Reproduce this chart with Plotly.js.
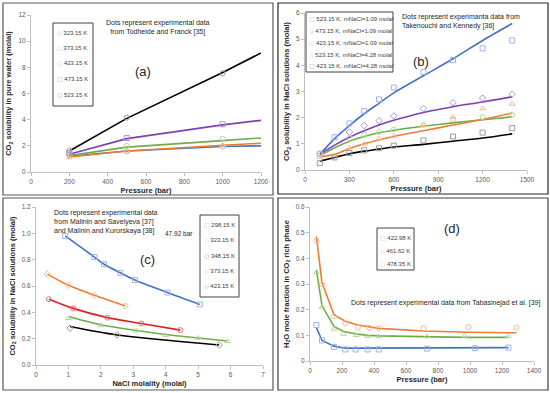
<!DOCTYPE html>
<html>
<head>
<meta charset="utf-8">
<script src="https://cdn.plot.ly/plotly-3.0.1.min.js"></script>
<style>html,body{margin:0;padding:0;background:#fff}#chart{width:550px;height:393px}</style>
</head>
<body>
<div id="chart"></div>
<script>
// ---------- Panel (a): CO2 solubility in pure water ----------
const aLineP = [200, 500, 1000, 1200];
const aExpP = [200, 500, 1000];
const a323Line = [1.2, 1.6, 1.95, 2.0];
const a373Line = [1.15, 1.6, 2.05, 2.2];
const a423Line = [1.25, 1.9, 2.4, 2.6];
const a473Line = [1.35, 2.55, 3.6, 3.95];
const a523Line = [1.6, 4.1, 7.6, 9.1];
const a323Exp = [1.3, 1.6, 1.95];
const a373Exp = [1.1, 1.55, 2.05];
const a423Exp = [1.45, 2.0, 2.55];
const a473Exp = [1.45, 2.6, 3.65];
const a523Exp = [1.65, 4.15, 7.55];
const aLabels = ["323.15 K", "373.15 K", "423.15 K", "473.15 K", "523.15 K"];

// ---------- Panel (b): CO2 solubility in NaCl solutions vs pressure ----------
const bLineP = [100, 200, 300, 400, 500, 600, 800, 1000, 1200, 1400];
const b523m109Line = [0.6, 1.2, 1.7, 2.15, 2.55, 2.95, 3.6, 4.25, 4.95, 5.6];
const b473m109Line = [0.6, 0.95, 1.25, 1.5, 1.72, 1.9, 2.2, 2.42, 2.6, 2.8];
const b423m109Line = [0.55, 0.85, 1.1, 1.28, 1.42, 1.52, 1.67, 1.8, 1.92, 2.03];
const b523m428Line = [0.5, 0.6, 0.82, 1.0, 1.15, 1.28, 1.5, 1.72, 1.93, 2.18];
const b423m428Line = [0.34, 0.48, 0.62, 0.72, 0.8, 0.88, 0.98, 1.1, 1.22, 1.38];
const b523m109ExpP = [100, 200, 300, 400, 500, 600, 800, 1000, 1200, 1400];
const b523m109Exp = [0.62, 1.25, 1.78, 2.25, 2.7, 3.15, 3.75, 4.2, 4.65, 4.95];
const b473m109ExpP = [100, 300, 400, 500, 600, 800, 1000, 1200, 1400];
const b473m109Exp = [0.62, 1.45, 1.7, 1.88, 2.07, 2.35, 2.57, 2.75, 2.9];
const b423m109ExpP = [100, 300, 400, 500, 600, 800, 1000, 1200, 1400];
const b423m109Exp = [0.62, 1.22, 1.35, 1.45, 1.55, 1.72, 1.93, 2.02, 2.1];
const b523m428ExpP = [100, 200, 300, 400, 500, 600, 800, 1000, 1200, 1400];
const b523m428Exp = [0.5, 0.55, 0.85, 1.0, 1.2, 1.3, 1.72, 2.02, 2.35, 2.52];
const b423m428ExpP = [100, 200, 300, 400, 500, 600, 800, 1000, 1200, 1400];
const b423m428Exp = [0.26, 0.48, 0.65, 0.75, 0.83, 0.93, 1.13, 1.28, 1.43, 1.6];
const bLabels = ["523.15 K, mNaCl=1.09 molal", "473.15 K, mNaCl=1.09 molal", "423.15 K, mNaCl=1.09 molal",
                 "523.15 K, mNaCl=4.28 molal", "423.15 K, mNaCl=4.28 molal"];

// ---------- Panel (c): CO2 solubility vs NaCl molality (47.92 bar) ----------
const c298M = [0.9, 1.8, 2.1, 2.6, 3.05, 4.05, 5.05];
const c298Line = [0.98, 0.82, 0.765, 0.7, 0.645, 0.55, 0.46];
const c298Exp = [0.98, 0.82, 0.765, 0.7, 0.645, 0.55, 0.46];
const c323M = [0.35, 1.0, 1.8, 2.75];
const c323Line = [0.69, 0.605, 0.53, 0.45];
const c323Exp = [0.69, 0.605, 0.53, 0.45];
const c348M = [0.4, 1.15, 2.2, 3.25, 4.45];
const c348Line = [0.5, 0.43, 0.36, 0.315, 0.265];
const c348Exp = [0.5, 0.43, 0.36, 0.315, 0.265];
const c373M = [1.0, 2.0, 3.1, 4.0, 5.0, 5.9];
const c373Line = [0.368, 0.305, 0.262, 0.232, 0.205, 0.182];
const c373Exp = [0.355, 0.3, 0.26, 0.225, 0.205, 0.18];
const c423M = [1.05, 2.5, 5.65];
const c423Line = [0.292, 0.228, 0.152];
const c423Exp = [0.28, 0.228, 0.152];
const cLabels = ["298.15 K", "323.15 K", "348.15 K", "373.15 K", "423.15 K"];

// ---------- Panel (d): H2O mole fraction in CO2-rich phase ----------
const d423P = [40, 75, 150, 220, 285, 360, 430, 730, 1030, 1240];
const d423Line = [0.13, 0.08, 0.058, 0.05, 0.05, 0.05, 0.05, 0.05, 0.051, 0.052];
const d423Exp = [0.14, 0.08, 0.055, 0.045, 0.045, 0.045, 0.045, 0.048, 0.05, 0.052];
const d462P = [40, 75, 150, 210, 290, 360, 430, 730, 965, 1240];
const d462Line = [0.355, 0.215, 0.135, 0.115, 0.105, 0.1, 0.098, 0.094, 0.092, 0.092];
const d462Exp = [0.345, 0.21, 0.125, 0.105, 0.1, 0.097, 0.095, 0.095, 0.098, 0.097];
const d478P = [40, 75, 150, 220, 300, 370, 430, 710, 990, 1290];
const d478Line = [0.485, 0.305, 0.18, 0.155, 0.14, 0.132, 0.127, 0.117, 0.112, 0.11];
const d478Exp = [0.47, 0.3, 0.175, 0.148, 0.13, 0.13, 0.128, 0.128, 0.132, 0.13];
const dLabels = ["422.98 K", "461.62 K", "478.35 K"];

// ---------- styling ----------
const C = {
  blue: "#4472C4", blueM: "#9DB5E3",
  orange: "#ED7D31", orangeM: "#F6BC95",
  green: "#70AD47", greenM: "#B4D89C",
  purple: "#7E3FB8", purpleM: "#B293DD",
  black: "#000000", blackM: "#9A9A9A",
  red: "#E02020", redM: "#E87070"
};
const FONT = "Liberation Sans, Arial, sans-serif";
const W = 550, H = 393;
const px = x => x / W, py = y => 1 - y / H;

const traces = [];
function addLine(ax, x, y, color, shape) {
  traces.push({x, y, xaxis: "x" + ax, yaxis: "y" + ax, type: "scatter", mode: "lines",
    line: {color, width: 1.6, shape: shape || "linear", smoothing: 0.8}, showlegend: false, hoverinfo: "skip"});
}
function addExp(ax, x, y, color, symbol, name) {
  traces.push({x, y, xaxis: "x" + ax, yaxis: "y" + ax, type: "scatter", mode: "markers", name,
    marker: {symbol, size: 5, color, line: {color, width: 1}}, showlegend: false});
}

// (a)
addLine("", aLineP, a323Line, C.blue); addLine("", aLineP, a373Line, C.orange);
addLine("", aLineP, a423Line, C.green); addLine("", aLineP, a473Line, C.purple);
addLine("", aLineP, a523Line, C.black);
addExp("", aExpP, a323Exp, C.blueM, "diamond-open", aLabels[0]);
addExp("", aExpP, a373Exp, C.orangeM, "triangle-up-open", aLabels[1]);
addExp("", aExpP, a423Exp, C.greenM, "circle-open", aLabels[2]);
addExp("", aExpP, a473Exp, C.purpleM, "square-open", aLabels[3]);
addExp("", aExpP, a523Exp, C.blackM, "circle-open", aLabels[4]);
// (b)
addLine("2", bLineP, b523m109Line, C.blue, "spline");
addLine("2", bLineP, b473m109Line, C.purple, "spline");
addLine("2", bLineP, b423m109Line, C.green, "spline");
addLine("2", bLineP, b523m428Line, C.orange, "spline");
addLine("2", bLineP, b423m428Line, C.black, "spline");
addExp("2", b523m109ExpP, b523m109Exp, C.blueM, "square-open", bLabels[0]);
addExp("2", b473m109ExpP, b473m109Exp, C.purpleM, "diamond-open", bLabels[1]);
addExp("2", b423m109ExpP, b423m109Exp, C.greenM, "circle-open", bLabels[2]);
addExp("2", b523m428ExpP, b523m428Exp, C.orangeM, "triangle-up-open", bLabels[3]);
addExp("2", b423m428ExpP, b423m428Exp, C.blackM, "square-open", bLabels[4]);
// (c)
addLine("3", c298M, c298Line, C.blue, "spline");
addLine("3", c323M, c323Line, C.orange, "spline");
addLine("3", c348M, c348Line, C.red, "spline");
addLine("3", c373M, c373Line, C.green, "spline");
addLine("3", c423M, c423Line, C.black, "spline");
addExp("3", c298M, c298Exp, C.blueM, "square-open", cLabels[0]);
addExp("3", c323M, c323Exp, C.orangeM, "diamond-open", cLabels[1]);
addExp("3", c348M, c348Exp, C.redM, "circle-open", cLabels[2]);
addExp("3", c373M, c373Exp, C.greenM, "triangle-up-open", cLabels[3]);
addExp("3", c423M, c423Exp, C.blackM, "diamond-open", cLabels[4]);
// (d)
addLine("4", d423P, d423Line, C.blue); addLine("4", d462P, d462Line, C.green);
addLine("4", d478P, d478Line, C.orange);
addExp("4", d423P, d423Exp, C.blueM, "square-open", dLabels[0]);
addExp("4", d462P, d462Exp, C.greenM, "triangle-up-open", dLabels[1]);
addExp("4", d478P, d478Exp, C.orangeM, "circle-open", dLabels[2]);

function xax(dom, range, dtick, title, anchor) {
  return {domain: dom, range, dtick, tick0: 0, anchor, showline: true, linecolor: "#BFBFBF", linewidth: 1,
    ticks: "outside", ticklen: 3, tickcolor: "#BFBFBF", showgrid: false, zeroline: false,
    tickfont: {size: 6.5, color: "#595959", family: FONT},
    title: {text: title, standoff: 3, font: {size: 7.5, color: "#262626", family: FONT, weight: "bold"}}};
}
function yax(dom, range, dtick, title, anchor, fmt) {
  const a = xax(dom, range, dtick, title, anchor);
  if (fmt) a.tickformat = fmt;
  a.title.standoff = 5;
  return a;
}

const shapes = [], annotations = [];
function box(x0, y0, x1, y1, color, width) {
  shapes.push({type: "rect", xref: "paper", yref: "paper", x0: px(x0), x1: px(x1), y0: py(y1), y1: py(y0),
    line: {color, width}, fillcolor: "rgba(0,0,0,0)"});
}
function text(x, y, t, size, anchor, align) {
  annotations.push({xref: "paper", yref: "paper", x: px(x), y: py(y), text: t, showarrow: false,
    xanchor: anchor || "center", yanchor: "middle", align: align || "center",
    font: {size, color: "#262626", family: FONT}});
}
function legendBox(x0, y0, x1, y1, symX, ys, syms, colors, labels) {
  box(x0, y0, x1, y1, "#404040", 1);
  labels.forEach((lab, i) => {
    annotations.push({xref: "paper", yref: "paper", x: px(symX), y: py(ys[i]), showarrow: false,
      xanchor: "left", yanchor: "middle",
      text: '<span style="color:' + colors[i] + ';font-family:DejaVu Sans">' + syms[i] + '</span> ' + lab,
      font: {size: 6, color: "#404040", family: FONT}});
  });
}

// panel frames
box(3, 3, 273, 195, "#595959", 1.2);
box(278, 3, 548, 194, "#262626", 1.2);
box(3, 198, 273, 390, "#595959", 1.2);
box(278, 198, 548, 390, "#404040", 1.2);

// legends
legendBox(53, 23, 93, 106, 55, [32, 47.5, 63, 78.5, 94],
  ["◇", "△", "○", "□", "○"], [C.blueM, C.orangeM, C.greenM, C.purpleM, C.blackM], aLabels);
legendBox(306, 12, 393, 72, 307, [18.5, 30.3, 42.2, 54, 65.5],
  ["□", "◇", "○", "△", "□"], [C.blueM, C.purpleM, C.greenM, C.orangeM, C.blackM], bLabels);
legendBox(200, 215, 239, 297, 202, [224.5, 239.5, 255, 270, 285.5],
  ["□", "◇", "○", "△", "◇"], [C.blueM, C.orangeM, C.redM, C.greenM, C.blackM], cLabels);
legendBox(377, 228, 414, 270, 378, [237, 250, 263],
  ["□", "△", "○"], [C.blueM, C.greenM, C.orangeM], dLabels);

// notes
text(158, 27, "Dots represent experimental data<br>from Todheide and Franck [35]", 7);
text(143, 72, "(a)", 13);
text(400, 22, "Dots represent experimanta data from<br>Takenouchi and Kennedy [36]", 7, "left", "left");
text(421, 62, "(b)", 13);
text(52, 222, "Dots represent experimental data<br>from Malinin and Savelyeva [37]<br>and Malinin and Kurorskaya [38]", 7, "left", "left");
text(179, 233, "47.92 bar", 6.5);
text(147, 259, "(c)", 13);
text(445, 303, "Dots represent experimental data from Tabasinejad et al. [39]", 7);
text(452, 228, "(d)", 13);

const layout = {
  width: W, height: H, margin: {l: 0, r: 0, t: 0, b: 0},
  paper_bgcolor: "#fff", plot_bgcolor: "rgba(0,0,0,0)", showlegend: false,
  font: {family: FONT},
  xaxis: xax([px(31), px(261)], [0, 1200], 200, "Pressure (bar)", "y"),
  yaxis: yax([py(172), py(15)], [0, 12], 2, "CO<sub>2</sub> solubility in pure water (molal)", "x"),
  xaxis2: xax([px(305), px(527)], [0, 1500], 300, "Pressure (bar)", "y2"),
  yaxis2: yax([py(170), py(13)], [0, 6], 1, "CO<sub>2</sub> solubility in NaCl solutions (molal)", "x2"),
  xaxis3: xax([px(36), px(263)], [0, 7], 1, "NaCl molality (molal)", "y3"),
  yaxis3: yax([py(365), py(207)], [0, 1.2], 0.2, "CO<sub>2</sub> solubility in NaCl solutions (molal)", "x3", ".1f"),
  xaxis4: xax([px(310), px(534)], [0, 1400], 200, "Pressure (bar)", "y4"),
  yaxis4: yax([py(361), py(207)], [0, 0.6], 0.1, "H<sub>2</sub>O mole fraction in CO<sub>2</sub> rich phase", "x4"),
  shapes, annotations
};
Plotly.newPlot("chart", traces, layout, {staticPlot: true, displayModeBar: false});
</script>
</body>
</html>
